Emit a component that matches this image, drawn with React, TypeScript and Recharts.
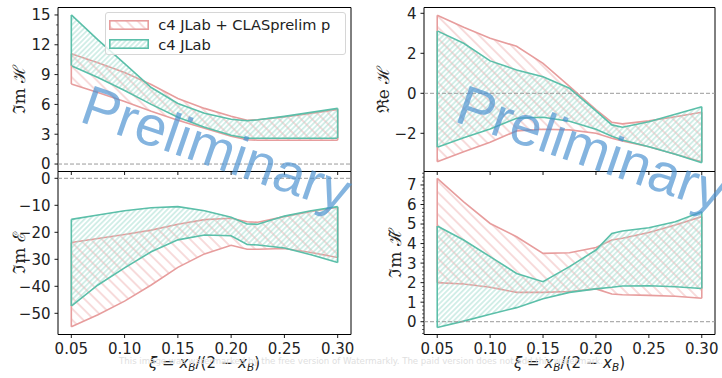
import React from "react";
import {
  Area,
  ComposedChart,
  Legend,
  ReferenceArea,
  ReferenceLine,
  XAxis,
  YAxis,
} from "recharts";

const FONT = "'DejaVu Sans', sans-serif";
const RED = "#e79d9d";
const RED_HATCH = "#f0b9b9";
const GRN = "#5bbfa9";
const GRN_HATCH = "#9fdbce";

// xi grid shared by all four panels
const XI = [0.05, 0.075, 0.1, 0.125, 0.15, 0.175, 0.2, 0.215, 0.225, 0.25, 0.275, 0.3];
const X_TICKS = [0.05, 0.1, 0.15, 0.2, 0.25, 0.3];
const X_DOMAIN: [number, number] = [0.0375, 0.3125];

const LEGEND_LABELS = ["c4 JLab + CLASprelim p", "c4 JLab"];

// Im H
const IMH_RED_LO = [8.05, 7.2, 6.3, 5.3, 4.4, 3.6, 2.8, 2.45, 2.4, 2.4, 2.4, 2.4];
const IMH_RED_HI = [11.1, 10.2, 9.2, 8.0, 6.6, 5.6, 4.8, 4.4, 4.45, 4.75, 5.1, 5.5];
const IMH_GRN_LO = [9.9, 8.7, 7.4, 6.0, 4.7, 3.7, 2.9, 2.6, 2.6, 2.6, 2.6, 2.6];
const IMH_GRN_HI = [15.0, 12.5, 10.1, 7.7, 6.1, 5.1, 4.5, 4.35, 4.45, 4.8, 5.2, 5.6];
const IMH_TICKS = [0, 3, 6, 9, 12, 15];
const IMH_MINOR = [1, 2, 4, 5, 7, 8, 10, 11, 13, 14];

// Re H
const REH_RED_LO = [-3.42, -2.92, -2.45, -1.88, -1.8, -1.83, -2.0, -2.25, -2.38, -2.67, -3.05, -3.42];
const REH_RED_HI = [3.9, 3.3, 2.75, 2.35, 1.5, 0.35, -0.82, -1.45, -1.53, -1.38, -1.17, -0.95];
const REH_GRN_LO = [-2.7, -2.22, -1.78, -1.25, -1.2, -1.4, -1.8, -2.15, -2.33, -2.67, -3.05, -3.47];
const REH_GRN_HI = [3.12, 2.5, 1.62, 1.17, 0.83, 0.25, -0.88, -1.58, -1.7, -1.42, -1.05, -0.67];
const REH_TICKS = [-2, 0, 2, 4];

// Im E
const IME_RED_LO = [-55.0, -50.5, -45.5, -39.5, -33.0, -28.0, -24.8, -26.3, -26.3, -26.0, -27.5, -29.3];
const IME_RED_HI = [-23.8, -22.3, -20.8, -19.2, -17.0, -15.3, -14.8, -16.1, -16.3, -14.2, -12.3, -10.7];
const IME_GRN_LO = [-47.3, -39.5, -33.2, -27.2, -22.8, -21.0, -21.3, -24.5, -24.7, -25.8, -28.3, -31.2];
const IME_GRN_HI = [-15.2, -13.6, -12.0, -10.9, -10.5, -12.0, -14.4, -16.9, -17.0, -14.0, -12.0, -10.5];
const IME_TICKS = [-50, -40, -30, -20, -10, 0];

// Im H tilde
const IMHT_RED_LO = [2.0, 1.93, 1.76, 1.5, 1.5, 1.55, 1.68, 1.42, 1.38, 1.35, 1.3, 1.2];
const IMHT_RED_HI = [7.34, 6.14, 5.03, 4.35, 3.5, 3.53, 3.8, 4.18, 4.27, 4.57, 4.95, 5.38];
const IMHT_GRN_LO = [-0.3, 0.03, 0.38, 0.72, 1.18, 1.5, 1.68, 1.76, 1.83, 1.84, 1.79, 1.7];
const IMHT_GRN_HI = [4.9, 4.18, 3.33, 2.47, 2.05, 2.82, 3.67, 4.52, 4.64, 4.81, 5.12, 5.63];
const IMHT_TICKS = [0, 1, 2, 3, 4, 5, 6, 7];
const IMHT_MINOR = [
  -0.6, -0.4, -0.2, 0.2, 0.4, 0.6, 0.8, 1.2, 1.4, 1.6, 1.8, 2.2, 2.4, 2.6, 2.8, 3.2, 3.4, 3.6, 3.8,
  4.2, 4.4, 4.6, 4.8, 5.2, 5.4, 5.6, 5.8, 6.2, 6.4, 6.6, 6.8, 7.2, 7.4, 7.6,
];

const fmt = (v: number) => (v < 0 ? "\u2212" + Math.abs(v) : String(v));

function yTick(majors: number[]) {
  return (props: any) => {
    const { x, y, payload } = props;
    const major = majors.includes(payload.value);
    return (
      <g>
        <line x1={x - (major ? 3.5 : 2)} x2={x} y1={y} y2={y} stroke="#000" strokeWidth={major ? 0.9 : 0.6} />
        {major && (
          <text x={x - 7.5} y={y} dy="0.36em" textAnchor="end" fill="#222" fontSize={15} fontFamily={FONT}>
            {fmt(payload.value)}
          </text>
        )}
      </g>
    );
  };
}

function XiLabel(props: any) {
  const { viewBox } = props;
  const cx = viewBox.x + viewBox.width / 2;
  const y = viewBox.y + 33.5;
  return (
    <text x={cx} y={y} textAnchor="middle" fill="#222" fontSize={15} fontFamily={FONT}>
      <tspan fontStyle="italic">ξ</tspan>
      <tspan> = </tspan>
      <tspan fontStyle="italic">x</tspan>
      <tspan fontStyle="italic" fontSize={10.5} dy={3}>B</tspan>
      <tspan dy={-3}>/(2 − </tspan>
      <tspan fontStyle="italic">x</tspan>
      <tspan fontStyle="italic" fontSize={10.5} dy={3}>B</tspan>
      <tspan dy={-3}>)</tspan>
    </text>
  );
}

function LegendBox({ id }: { id: string }) {
  const fills = [`url(#${id}-red)`, `url(#${id}-grn)`];
  const strokes = [RED, GRN];
  return (
    <div
      style={{
        boxSizing: "border-box",
        position: "relative",
        width: "100%",
        height: "100%",
        background: "rgba(255,255,255,0.8)",
        border: "1px solid #d6d6d6",
        borderRadius: 3,
        fontFamily: FONT,
        fontSize: 14.6,
        color: "#222",
      }}
    >
      {LEGEND_LABELS.map((label, i) => (
        <div
          key={label}
          style={{ position: "absolute", left: 3, top: 2.8 + i * 19.3, height: 19, display: "flex", alignItems: "center" }}
        >
          <svg width={40} height={10} style={{ display: "block" }}>
            <rect x={0.8} y={0.8} width={38.4} height={8.4} fill={fills[i]} stroke={strokes[i]} strokeWidth={1.6} />
          </svg>
          <span style={{ marginLeft: 9.5, whiteSpace: "nowrap", lineHeight: "19px" }}>{label}</span>
        </div>
      ))}
    </div>
  );
}

interface PanelProps {
  id: string;
  left: number;
  top: number;
  width: number;
  height: number;
  margin: { top: number; right: number; bottom: number; left: number };
  yAxisWidth: number;
  xAxisHeight: number;
  redLo: number[];
  redHi: number[];
  grnLo: number[];
  grnHi: number[];
  yDomain: [number, number];
  yTicks: number[];
  yMinor?: number[];
  yLabel: string;
  yLabelX: number;
  showXLabels: boolean;
  legend?: boolean;
}

function Panel(p: PanelProps) {
  const data = XI.map((xi, i) => ({ xi, red: [p.redLo[i], p.redHi[i]], grn: [p.grnLo[i], p.grnHi[i]] }));
  const ends = [0, XI.length - 1];
  const allTicks = [...p.yTicks, ...(p.yMinor ?? [])].sort((a, b) => a - b);
  return (
    <div style={{ position: "absolute", left: p.left, top: p.top }}>
      <ComposedChart width={p.width} height={p.height} data={data} margin={p.margin}>
        <defs>
          <pattern id={`${p.id}-red`} patternUnits="userSpaceOnUse" width={7.8} height={7.8} patternTransform="rotate(45)">
            <line x1={0} y1={3.9} x2={7.8} y2={3.9} stroke={RED_HATCH} strokeWidth={1} />
          </pattern>
          <pattern id={`${p.id}-grn`} patternUnits="userSpaceOnUse" width={3.7} height={3.7} patternTransform="rotate(-45)">
            <line x1={0} y1={1.85} x2={3.7} y2={1.85} stroke={GRN_HATCH} strokeWidth={0.9} />
          </pattern>
        </defs>
        <XAxis
          dataKey="xi"
          type="number"
          domain={X_DOMAIN}
          ticks={X_TICKS}
          interval={0}
          allowDataOverflow
          height={p.xAxisHeight}
          axisLine={false}
          tickSize={3.5}
          tickMargin={5}
          tickLine={{ stroke: "#000", strokeWidth: 0.9 }}
          tick={{ fill: "#222", fontSize: 15, fontFamily: FONT }}
          tickFormatter={(v: number) => (p.showXLabels ? v.toFixed(2) : "")}
          label={p.showXLabels ? <XiLabel /> : undefined}
        />
        <YAxis
          type="number"
          domain={p.yDomain}
          ticks={allTicks}
          interval={0}
          allowDataOverflow
          width={p.yAxisWidth}
          axisLine={false}
          tickLine={false}
          tickSize={0}
          tickMargin={0}
          tick={yTick(p.yTicks)}
          label={(lp: any) => {
            const cy = lp.viewBox.y + lp.viewBox.height / 2;
            const cx = lp.viewBox.x + p.yLabelX;
            return (
              <text
                x={cx}
                y={cy}
                transform={`rotate(-90 ${cx} ${cy})`}
                textAnchor="middle"
                dy="0.35em"
                fill="#222"
                fontSize={17}
                fontFamily="'DejaVu Serif', serif"
              >
                {p.yLabel}
              </text>
            );
          }}
        />
        <ReferenceLine y={0} stroke="#9a9a9a" strokeDasharray="4 2" strokeWidth={1} />
        <Area
          type="linear"
          dataKey="red"
          stroke={RED}
          strokeWidth={1.6}
          fill={`url(#${p.id}-red)`}
          fillOpacity={1}
          isAnimationActive={false}
        />
        <Area
          type="linear"
          dataKey="grn"
          stroke={GRN}
          strokeWidth={1.6}
          fill={`url(#${p.id}-grn)`}
          fillOpacity={1}
          isAnimationActive={false}
        />
        {ends.map((i) => (
          <ReferenceLine
            key={`r${i}`}
            segment={[
              { x: XI[i], y: p.redLo[i] },
              { x: XI[i], y: p.redHi[i] },
            ]}
            stroke={RED}
            strokeWidth={1.6}
          />
        ))}
        {ends.map((i) => (
          <ReferenceLine
            key={`g${i}`}
            segment={[
              { x: XI[i], y: p.grnLo[i] },
              { x: XI[i], y: p.grnHi[i] },
            ]}
            stroke={GRN}
            strokeWidth={1.6}
          />
        ))}
        <ReferenceArea
          x1={X_DOMAIN[0]}
          x2={X_DOMAIN[1]}
          y1={p.yDomain[0]}
          y2={p.yDomain[1]}
          fill="none"
          stroke="#000"
          strokeWidth={1}
          ifOverflow="visible"
        />
        {p.legend && (
          <Legend
            verticalAlign="middle"
            align="center"
            layout="horizontal"
            wrapperStyle={{ left: 104.7, top: 11.7, width: 241.5, height: 43.3 }}
            content={() => <LegendBox id={p.id} />}
          />
        )}
      </ComposedChart>
    </div>
  );
}

export default function App() {
  return (
    <div
      style={{ position: "absolute", left: 0, top: 0, width: 722, height: 378, background: "#fff", overflow: "hidden" }}
    >
      <Panel
        id="imh"
        left={0}
        top={0}
        width={361}
        height={180}
        margin={{ top: 7.5, right: 10, bottom: 0, left: 0 }}
        yAxisWidth={58}
        xAxisHeight={8.5}
        redLo={IMH_RED_LO}
        redHi={IMH_RED_HI}
        grnLo={IMH_GRN_LO}
        grnHi={IMH_GRN_HI}
        yDomain={[-0.75, 15.75]}
        yTicks={IMH_TICKS}
        yMinor={IMH_MINOR}
        yLabel="ℑm ℋ"
        yLabelX={19}
        showXLabels={false}
        legend
      />
      <Panel
        id="reh"
        left={361}
        top={0}
        width={361}
        height={180}
        margin={{ top: 7.5, right: 7, bottom: 0, left: 0 }}
        yAxisWidth={63}
        xAxisHeight={8.5}
        redLo={REH_RED_LO}
        redHi={REH_RED_HI}
        grnLo={REH_GRN_LO}
        grnHi={REH_GRN_HI}
        yDomain={[-3.91, 4.29]}
        yTicks={REH_TICKS}
        yLabel="ℜe ℋ"
        yLabelX={22.5}
        showXLabels={false}
      />
      <Panel
        id="ime"
        left={0}
        top={165}
        width={361}
        height={213}
        margin={{ top: 6.5, right: 10, bottom: 0, left: 0 }}
        yAxisWidth={58}
        xAxisHeight={43.5}
        redLo={IME_RED_LO}
        redHi={IME_RED_HI}
        grnLo={IME_GRN_LO}
        grnHi={IME_GRN_HI}
        yDomain={[-57.85, 2.52]}
        yTicks={IME_TICKS}
        yLabel="ℑm ℰ"
        yLabelX={19}
        showXLabels
      />
      <Panel
        id="imht"
        left={361}
        top={165}
        width={361}
        height={213}
        margin={{ top: 6.5, right: 7, bottom: 0, left: 0 }}
        yAxisWidth={63}
        xAxisHeight={43.5}
        redLo={IMHT_RED_LO}
        redHi={IMHT_RED_HI}
        grnLo={IMHT_GRN_LO}
        grnHi={IMHT_GRN_HI}
        yDomain={[-0.655, 7.69]}
        yTicks={IMHT_TICKS}
        yMinor={IMHT_MINOR}
        yLabel="ℑm ℋ̃"
        yLabelX={34}
        showXLabels
      />
      <svg
        width={722}
        height={378}
        style={{ position: "absolute", left: 0, top: 0, pointerEvents: "none" }}
      >
        <text x={361} y={364} textAnchor="middle" fill="#e0e0e0" fontSize={8.6} fontFamily={FONT}>
          This image was watermarked by the free version of Watermarkly. The paid version does not add this watermark.
        </text>
        <text
          x={78}
          y={121}
          transform="rotate(19 78 121)"
          fill="#4a90d0"
          fillOpacity={0.68}
          fontSize={56}
          fontFamily="'Liberation Sans', Arial, sans-serif"
        >
          Preliminary
        </text>
        <text
          x={453}
          y={121}
          transform="rotate(19 453 121)"
          fill="#4a90d0"
          fillOpacity={0.68}
          fontSize={56}
          fontFamily="'Liberation Sans', Arial, sans-serif"
        >
          Preliminary
        </text>
      </svg>
    </div>
  );
}
